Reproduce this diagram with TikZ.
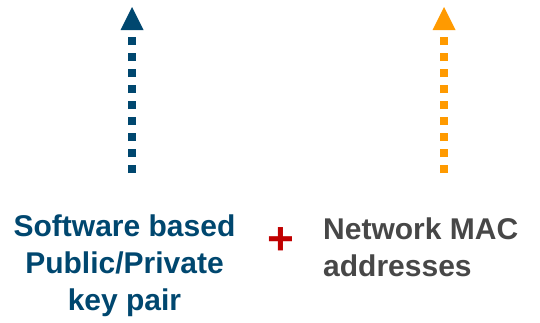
\documentclass[tikz,border=0pt]{standalone}
\usepackage{fontspec}
\setmainfont{Liberation Sans}
\definecolor{keyblue}{HTML}{00476F}
\definecolor{macorange}{HTML}{FF9A00}
\definecolor{macgray}{HTML}{474747}
\definecolor{plusred}{HTML}{C00000}
\tikzset{
  dotline/.style={line width=8pt, dash pattern=on 8pt off 8pt},
  lbl/.style={inner sep=0pt, font=\bfseries\fontsize{30}{37}\selectfont},
}
\begin{document}
\begin{tikzpicture}[x=1pt,y=-1pt]
\useasboundingbox (0,0) rectangle (540,322);
% left arrow
\coordinate (lb) at (132,173);
\coordinate (lt) at (132,37);
\draw[dotline, keyblue] (lb) -- (lt);
\fill[keyblue] (120.5,30) -- (143.5,30) -- (132,7) -- cycle;
% right arrow
\coordinate (rb) at (444,173);
\coordinate (rt) at (444,37);
\draw[dotline, macorange] (rb) -- (rt);
\fill[macorange] (432.5,30) -- (455.5,30) -- (444,7) -- cycle;
% texts
\node[lbl, text=keyblue, align=center, anchor=base] (key) at (124.5,310) {Software based\\Public/Private\\key pair};
\node[lbl, text=macgray, align=left, anchor=base west] (mac) at (323,276) {Network MAC\\addresses};
\node[inner sep=0pt, text=plusred, font=\bfseries\fontsize{46}{46}\selectfont] (plus) at (281,241) {+};
\end{tikzpicture}
\end{document}
